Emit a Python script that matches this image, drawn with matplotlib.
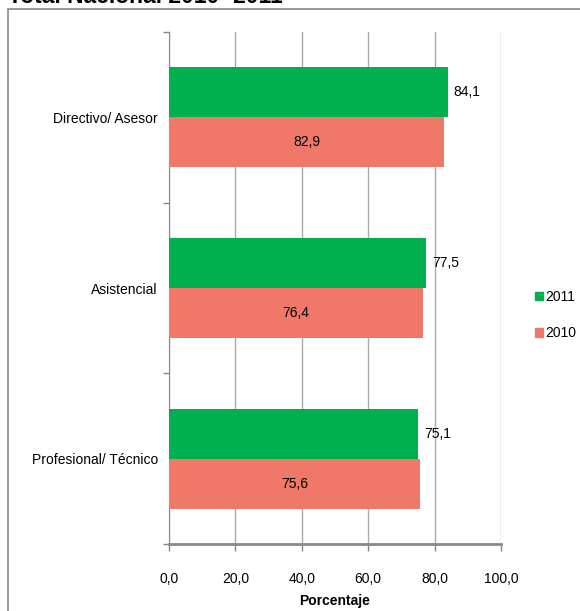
import matplotlib
matplotlib.use("Agg")
import matplotlib.pyplot as plt
from matplotlib.patches import Rectangle, Patch
import numpy as np

categories = ["Directivo/ Asesor", "Asistencial", "Profesional/ Técnico"]
series_names = ["2011", "2010"]
values_2011 = [84.1, 77.5, 75.1]
values_2010 = [82.9, 76.4, 75.6]
xticks = [0, 20, 40, 60, 80, 100]
title = "Total Nacional 2010- 2011"

GREEN = "#00B050"
SALMON = "#F07868"
FONT = ["Liberation Sans", "DejaVu Sans"]
plt.rcParams["font.family"] = FONT

W, H = 580, 611
fig = plt.figure(figsize=(W / 100, H / 100), dpi=100)

# outer frame (only left and top visible)
fig.patches.append(Rectangle((8 / W, -0.1), 1.2, 1 - 9 / H + 0.1, transform=fig.transFigure,
                             fill=False, edgecolor="#888888", linewidth=1.2, zorder=0))
fig.text(8 / W, 1 - 3 / H, title, fontsize=16.5, fontweight="bold", ha="left", va="baseline")

ax = fig.add_axes([169 / W, 1 - 544 / H, 332 / W, 512 / H])
y = np.arange(len(categories))
h = 0.293
ax.barh(y - h / 2, values_2011, height=h, color=GREEN, label=series_names[0], zorder=3)
ax.barh(y + h / 2, values_2010, height=h, color=SALMON, label=series_names[1], zorder=3)

for yi, v in zip(y, values_2011):
    ax.text(v + 1.7, yi - h / 2, f"{v:.1f}".replace(".", ","), va="center", ha="left", fontsize=10)
for yi, v in zip(y, values_2010):
    ax.text(v / 2, yi + h / 2, f"{v:.1f}".replace(".", ","), va="center", ha="center", fontsize=10)

ax.set_xlim(0, 100)
ax.set_ylim(len(categories) - 0.5, -0.5)
ax.set_xticks(xticks)
ax.set_xticklabels([f"{t:.1f}".replace(".", ",") for t in xticks], fontsize=10)
ax.set_yticks(np.arange(-0.5, len(categories), 1.0))
ax.set_yticklabels([])
ax.set_yticks(y, minor=True)
ax.set_yticklabels(categories, minor=True, fontsize=10)
ax.tick_params(axis="y", which="minor", length=0, pad=8)
ax.tick_params(axis="y", which="major", length=4, color="#888888", width=1)
ax.tick_params(axis="x", length=5, color="#888888", width=1, pad=15)
ax.grid(axis="x", color="#aaaaaa", linewidth=1, zorder=0)
for s in ["top", "right"]:
    ax.spines[s].set_visible(False)
ax.spines["left"].set_color("#888888")
ax.spines["bottom"].set_color("#888888")
ax.spines["bottom"].set_linewidth(2)
ax.set_xlabel("Porcentaje", fontsize=10, fontweight="bold", labelpad=6)

handles = [Patch(color=GREEN), Patch(color=SALMON)]
fig.legend(handles, series_names, loc="center left", bbox_to_anchor=(535 / W, 1 - 315 / H),
           frameon=False, fontsize=10, handlelength=0.6, handleheight=0.6,
           handletextpad=0.15, labelspacing=1.6, borderpad=0, borderaxespad=0)

fig.savefig("out.png", dpi=100)
